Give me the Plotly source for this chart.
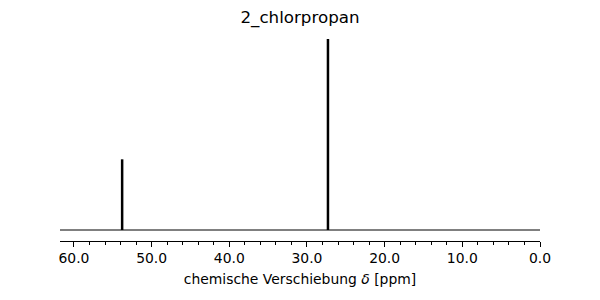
import plotly.graph_objects as go

# data
shifts = [53.8, 27.3]          # ppm
intensities = [0.37, 1.0]      # relative
x_limits = [61.8, 0.0]         # axis range (reversed)
baseline_level = 0.0
major_ticks = [60, 50, 40, 30, 20, 10, 0]
title_text = "2_chlorpropan"
xlabel = "chemische Verschiebung <i>δ</i> [ppm]"

px, py = [], []
for s, h in zip(shifts, intensities):
    px += [s, s, None]
    py += [baseline_level, h, None]

fig = go.Figure()
fig.add_trace(go.Scatter(x=x_limits, y=[baseline_level, baseline_level], mode="lines",
                         line=dict(color="black", width=1), hoverinfo="skip"))
fig.add_trace(go.Scatter(x=px, y=py, mode="lines",
                         line=dict(color="black", width=2.5), hoverinfo="skip"))

fig.update_layout(
    width=600, height=300,
    margin=dict(l=60, r=60, t=30, b=59),
    paper_bgcolor="white", plot_bgcolor="white",
    showlegend=False,
    font=dict(family="DejaVu Sans", color="black", size=13.9),
    title=dict(text=title_text, x=0.5, xanchor="center", y=1 - 17 / 300, yanchor="middle",
               yref="container", font=dict(size=16.7, family="DejaVu Sans", color="black")),
    xaxis=dict(range=x_limits, tickvals=major_ticks, ticktext=[f"{v:.1f}" for v in major_ticks],
               showgrid=False, zeroline=False, showline=True, linecolor="black", linewidth=1,
               ticks="outside", ticklen=4.5, tickwidth=1, tickcolor="black",
               minor=dict(dtick=2, ticks="outside", ticklen=2.5, tickwidth=1, tickcolor="black", showgrid=False),
               title=dict(text=xlabel, standoff=9, font=dict(size=13.9))),
    yaxis=dict(range=[-0.0576, 1.047], visible=False, showgrid=False, zeroline=False),
)
fig.write_html("out.html")
